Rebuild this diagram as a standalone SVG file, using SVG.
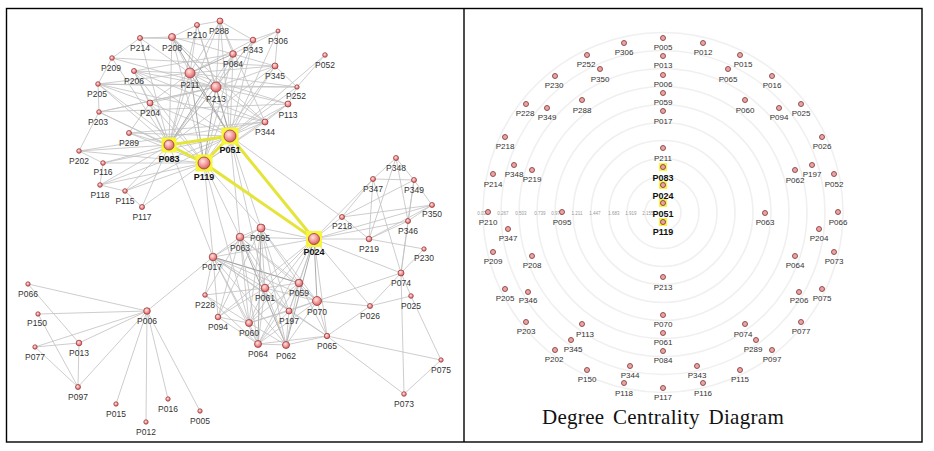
<svg xmlns="http://www.w3.org/2000/svg" width="934" height="451" viewBox="0 0 934 451">
<style>
.e{stroke:#c0c0c0;stroke-width:0.8;fill:none}
.ed{stroke:#959595;stroke-width:0.8;fill:none}
.y{stroke:#e4e43a;stroke-width:3;fill:none;stroke-linecap:round}
.n{fill:url(#g);stroke:#9c3a3a;stroke-width:0.8}
.rn{fill:#eaa4a4;stroke:#8b4040;stroke-width:0.9}
.hl{fill:#f6f63c}
.l{font-family:"Liberation Sans",Arial,sans-serif;font-size:8.5px;fill:#333;text-anchor:middle}
.lb{font-family:"Liberation Sans",Arial,sans-serif;font-size:9px;font-weight:bold;fill:#111;text-anchor:middle}
.rl{font-family:"Liberation Sans",Arial,sans-serif;font-size:8px;fill:#333;text-anchor:middle}
.tk{font-family:"Liberation Sans",Arial,sans-serif;font-size:4.5px;fill:#999;text-anchor:middle}
.ring{fill:none;stroke:#f0f0f0;stroke-width:1.6}
</style>
<defs>
<radialGradient id="g" cx="40%" cy="35%" r="65%">
<stop offset="0" stop-color="#ffe4e4"/>
<stop offset="0.55" stop-color="#f39a9a"/>
<stop offset="1" stop-color="#d36464"/>
</radialGradient>
</defs>
<rect x="0" y="0" width="934" height="451" fill="#fff"/>
<g id="frame" fill="none" stroke="#000" stroke-width="1.4">
<rect x="6.5" y="8.5" width="915.5" height="433.5"/>
<line x1="464" y1="8.5" x2="464" y2="442"/>
</g>

<g id="connectors">
<path class="e" d="M169 145L140 38M169 145L172 37M169 145L112 58M169 145L134 71M169 145L190 73M169 145L216 87M169 145L233 54M169 145L98 84M169 145L99 112M169 145L150 103M169 145L129 133M169 145L79 151M169 145L103 163M169 145L100 185M169 145L125 191M169 145L142 207M169 145L197 25M169 145L220 21M169 145L253 40M169 145L275 66M169 145L213 257"/>
<path class="e" d="M230 136L197 25M230 136L220 21M230 136L233 54M230 136L253 40M230 136L278 31M230 136L275 66M230 136L297 87M230 136L288 104M230 136L265 122M230 136L134 71M230 136L150 103M230 136L129 133M230 136L103 163M230 136L100 185M230 136L125 191M230 136L325 55M230 136L261 228M230 136L240 237M230 136L265 288M230 136L342 217"/>
<path class="ed" d="M230 136L172 37M230 136L190 73M230 136L216 87M204 163L190 73M204 163L216 87M169 145L211 80M190 73L233 54M216 87L172 37"/>
<path class="e" d="M204 163L172 37M204 163L233 54M204 163L253 40M204 163L275 66M204 163L288 104M204 163L265 122M204 163L150 103M204 163L134 71M204 163L129 133M204 163L79 151M204 163L103 163M204 163L100 185M204 163L125 191M204 163L142 207M204 163L98 84M204 163L99 112M204 163L213 257M204 163L240 237M204 163L261 228M204 163L249 323"/>
<path class="e" d="M190 73L197 25M190 73L220 21M190 73L172 37M190 73L140 38M190 73L216 87M190 73L253 40M190 73L134 71M190 73L150 103M190 73L275 66M190 73L288 104M190 73L297 87M190 73L98 84"/>
<path class="e" d="M216 87L197 25M216 87L220 21M216 87L233 54M216 87L253 40M216 87L275 66M216 87L134 71M216 87L98 84M216 87L150 103M216 87L99 112M216 87L288 104M216 87L297 87M216 87L265 122M216 87L112 58"/>
<path class="e" d="M112 58L140 38M140 38L172 37M172 37L197 25M197 25L220 21M220 21L253 40M253 40L278 31M112 58L98 84M98 84L99 112M79 151L99 112M79 151L103 163M103 163L100 185M100 185L125 191M125 191L142 207M233 54L275 66M275 66L297 87M297 87L288 104M288 104L265 122M278 31L275 66M325 55L297 87M233 54L278 31M150 103L134 71M150 103L98 84M129 133L150 103M220 21L233 54M172 37L233 54M134 71L233 54M98 84L297 87M99 112L288 104M134 71L265 122M172 37L265 122M220 21L265 122M140 38L253 40M112 58L275 66M98 84L265 122M99 112L216 87M129 133L265 122M79 151L265 122"/>
<path class="e" d="M213 257L240 237M213 257L261 228M213 257L265 288M213 257L299 283M213 257L317 301M213 257L289 311M213 257L249 323M213 257L258 344M213 257L286 345M213 257L314 239M213 257L205 295M213 257L218 317M213 257L327 336M213 257L147 311"/>
<path class="e" d="M314 239L261 228M314 239L240 237M314 239L265 288M314 239L299 283M314 239L289 311M314 239L249 323M314 239L258 344M314 239L327 336M314 239L218 317M314 239L342 217M314 239L369 239M314 239L401 273M314 239L370 306M314 239L373 179M314 239L432 205M314 239L408 221"/>
<path class="ed" d="M314 239L317 301M314 239L286 345M213 257L299 283M261 228L258 344M240 237L286 345"/>
<path class="e" d="M261 228L240 237M261 228L265 288M261 228L299 283M261 228L317 301M261 228L249 323M261 228L286 345M261 228L289 311M261 228L218 317M240 237L265 288M240 237L299 283M240 237L249 323M240 237L258 344M240 237L317 301M240 237L218 317M240 237L205 295M240 237L289 311M265 288L299 283M265 288L249 323M265 288L258 344M265 288L286 345M265 288L289 311M265 288L317 301M265 288L218 317M265 288L205 295M299 283L317 301M299 283L289 311M299 283L249 323M299 283L258 344M299 283L286 345M299 283L327 336M317 301L289 311M317 301L258 344M317 301L286 345M317 301L327 336M317 301L249 323M317 301L370 306M317 301L401 273M289 311L249 323M289 311L258 344M289 311L286 345M289 311L327 336M249 323L258 344M249 323L286 345M249 323L218 317M249 323L205 295M258 344L286 345M258 344L327 336M286 345L327 336M218 317L258 344M205 295L258 344"/>
<path class="e" d="M396 158L373 179M396 158L414 180M396 158L408 221M396 158L369 239M373 179L414 180M373 179L369 239M373 179L342 217M373 179L401 273M414 180L432 205M414 180L408 221M414 180L401 273M414 180L342 217M432 205L408 221M432 205L369 239M432 205L342 217M408 221L369 239M408 221L401 273M342 217L369 239M369 239L424 249M401 273L370 306M401 273L411 296M401 273L404 394M401 273L424 249M370 306L411 296M370 306L327 336M411 296L441 360M327 336L441 360M327 336L404 394M404 394L441 360"/>
<path class="e" d="M147 311L28 284M147 311L38 314M147 311L35 347M147 311L79 343M147 311L78 387M147 311L116 404M147 311L146 422M147 311L168 399M147 311L200 411M28 284L79 343M38 314L78 387M35 347L78 387M79 343L78 387M35 347L79 343"/>
<path class="y" d="M169 145L230 136M169 145L204 163M230 136L204 163M204 163L314 239M230 136L314 239"/>
</g>

<g id="left-highlights">
<rect class="hl" x="161.5" y="137.5" width="15" height="15"/>
<rect class="hl" x="221.5" y="127.5" width="17" height="17"/>
<rect class="hl" x="195.5" y="154.5" width="17" height="17"/>
<rect class="hl" x="306" y="231" width="16" height="16"/>
</g>

<g id="left-nodes">
<g id="L-P210"><circle class="n" cx="197" cy="25" r="2.5"/><text class="l" x="197" y="38">P210</text></g>
<g id="L-P288"><circle class="n" cx="220" cy="21" r="3"/><text class="l" x="219" y="34">P288</text></g>
<g id="L-P214"><circle class="n" cx="140" cy="38" r="2.5"/><text class="l" x="140" y="51">P214</text></g>
<g id="L-P208"><circle class="n" cx="172" cy="37" r="3.5"/><text class="l" x="172" y="51">P208</text></g>
<g id="L-P209"><circle class="n" cx="112" cy="58" r="2.3"/><text class="l" x="111" y="71">P209</text></g>
<g id="L-P206"><circle class="n" cx="134" cy="71" r="2.5"/><text class="l" x="134" y="84">P206</text></g>
<g id="L-P211"><circle class="n" cx="190" cy="73" r="5"/><text class="l" x="190" y="88">P211</text></g>
<g id="L-P213"><circle class="n" cx="216" cy="87" r="5"/><text class="l" x="216" y="102">P213</text></g>
<g id="L-P084"><circle class="n" cx="233" cy="54" r="3.3"/><text class="l" x="233" y="67">P084</text></g>
<g id="L-P343"><circle class="n" cx="253" cy="40" r="2.8"/><text class="l" x="253" y="53">P343</text></g>
<g id="L-P306"><circle class="n" cx="278" cy="31" r="2"/><text class="l" x="278" y="44">P306</text></g>
<g id="L-P052"><circle class="n" cx="325" cy="55" r="2.3"/><text class="l" x="325" y="68">P052</text></g>
<g id="L-P345"><circle class="n" cx="275" cy="66" r="3"/><text class="l" x="275" y="79">P345</text></g>
<g id="L-P252"><circle class="n" cx="297" cy="87" r="2.2"/><text class="l" x="296" y="99">P252</text></g>
<g id="L-P113"><circle class="n" cx="288" cy="104" r="3"/><text class="l" x="288" y="118">P113</text></g>
<g id="L-P344"><circle class="n" cx="265" cy="122" r="3"/><text class="l" x="265" y="135">P344</text></g>
<g id="L-P205"><circle class="n" cx="98" cy="84" r="2.3"/><text class="l" x="97" y="97">P205</text></g>
<g id="L-P203"><circle class="n" cx="99" cy="112" r="2.3"/><text class="l" x="98" y="125">P203</text></g>
<g id="L-P204"><circle class="n" cx="150" cy="103" r="3"/><text class="l" x="150" y="116">P204</text></g>
<g id="L-P289"><circle class="n" cx="129" cy="133" r="2.5"/><text class="l" x="129" y="146">P289</text></g>
<g id="L-P083"><circle class="n" cx="169" cy="145" r="5"/><text class="lb" x="169" y="162">P083</text></g>
<g id="L-P051"><circle class="n" cx="230" cy="136" r="6"/><text class="lb" x="230" y="153">P051</text></g>
<g id="L-P119"><circle class="n" cx="204" cy="163" r="6"/><text class="lb" x="204" y="180">P119</text></g>
<g id="L-P202"><circle class="n" cx="79" cy="151" r="2.3"/><text class="l" x="79" y="164">P202</text></g>
<g id="L-P116"><circle class="n" cx="103" cy="163" r="2.3"/><text class="l" x="103" y="175">P116</text></g>
<g id="L-P118"><circle class="n" cx="100" cy="185" r="2.3"/><text class="l" x="100" y="198">P118</text></g>
<g id="L-P115"><circle class="n" cx="125" cy="191" r="2.3"/><text class="l" x="125" y="204">P115</text></g>
<g id="L-P117"><circle class="n" cx="142" cy="207" r="2.5"/><text class="l" x="142" y="220">P117</text></g>
<g id="L-P017"><circle class="n" cx="213" cy="257" r="3.8"/><text class="l" x="212" y="270">P017</text></g>
<g id="L-P095"><circle class="n" cx="261" cy="228" r="4"/><text class="l" x="260" y="241">P095</text></g>
<g id="L-P063"><circle class="n" cx="240" cy="237" r="3.8"/><text class="l" x="240" y="251">P063</text></g>
<g id="L-P024"><circle class="n" cx="314" cy="239" r="5.5"/><text class="lb" x="314" y="255">P024</text></g>
<g id="L-P218"><circle class="n" cx="342" cy="217" r="2.5"/><text class="l" x="342" y="229">P218</text></g>
<g id="L-P219"><circle class="n" cx="369" cy="239" r="2.8"/><text class="l" x="369" y="252">P219</text></g>
<g id="L-P348"><circle class="n" cx="396" cy="158" r="2.5"/><text class="l" x="396" y="171">P348</text></g>
<g id="L-P347"><circle class="n" cx="373" cy="179" r="2.5"/><text class="l" x="373" y="192">P347</text></g>
<g id="L-P349"><circle class="n" cx="414" cy="180" r="2.5"/><text class="l" x="414" y="193">P349</text></g>
<g id="L-P350"><circle class="n" cx="432" cy="205" r="2.5"/><text class="l" x="432" y="217">P350</text></g>
<g id="L-P346"><circle class="n" cx="408" cy="221" r="2.5"/><text class="l" x="408" y="234">P346</text></g>
<g id="L-P230"><circle class="n" cx="424" cy="249" r="2.2"/><text class="l" x="424" y="261">P230</text></g>
<g id="L-P074"><circle class="n" cx="401" cy="273" r="3"/><text class="l" x="401" y="286">P074</text></g>
<g id="L-P066"><circle class="n" cx="28" cy="284" r="2.2"/><text class="l" x="28" y="297">P066</text></g>
<g id="L-P150"><circle class="n" cx="38" cy="314" r="2.2"/><text class="l" x="37" y="326">P150</text></g>
<g id="L-P077"><circle class="n" cx="35" cy="347" r="2.2"/><text class="l" x="35" y="360">P077</text></g>
<g id="L-P013"><circle class="n" cx="79" cy="343" r="2.8"/><text class="l" x="79" y="356">P013</text></g>
<g id="L-P097"><circle class="n" cx="78" cy="387" r="2.5"/><text class="l" x="78" y="400">P097</text></g>
<g id="L-P006"><circle class="n" cx="147" cy="311" r="3.3"/><text class="l" x="147" y="324">P006</text></g>
<g id="L-P015"><circle class="n" cx="116" cy="404" r="2.2"/><text class="l" x="116" y="417">P015</text></g>
<g id="L-P012"><circle class="n" cx="146" cy="422" r="2.2"/><text class="l" x="146" y="435">P012</text></g>
<g id="L-P016"><circle class="n" cx="168" cy="399" r="2.2"/><text class="l" x="168" y="412">P016</text></g>
<g id="L-P005"><circle class="n" cx="200" cy="411" r="2.2"/><text class="l" x="200" y="424">P005</text></g>
<g id="L-P228"><circle class="n" cx="205" cy="295" r="2.3"/><text class="l" x="205" y="308">P228</text></g>
<g id="L-P094"><circle class="n" cx="218" cy="317" r="2.8"/><text class="l" x="218" y="330">P094</text></g>
<g id="L-P061"><circle class="n" cx="265" cy="288" r="3.8"/><text class="l" x="265" y="301">P061</text></g>
<g id="L-P059"><circle class="n" cx="299" cy="283" r="3.8"/><text class="l" x="299" y="296">P059</text></g>
<g id="L-P070"><circle class="n" cx="317" cy="301" r="4.5"/><text class="l" x="317" y="315">P070</text></g>
<g id="L-P197"><circle class="n" cx="289" cy="311" r="3"/><text class="l" x="289" y="324">P197</text></g>
<g id="L-P060"><circle class="n" cx="249" cy="323" r="3.5"/><text class="l" x="249" y="336">P060</text></g>
<g id="L-P064"><circle class="n" cx="258" cy="344" r="3.5"/><text class="l" x="258" y="357">P064</text></g>
<g id="L-P062"><circle class="n" cx="286" cy="345" r="3.5"/><text class="l" x="286" y="359">P062</text></g>
<g id="L-P065"><circle class="n" cx="327" cy="336" r="2.7"/><text class="l" x="327" y="349">P065</text></g>
<g id="L-P026"><circle class="n" cx="370" cy="306" r="2.5"/><text class="l" x="370" y="319">P026</text></g>
<g id="L-P025"><circle class="n" cx="411" cy="296" r="2.3"/><text class="l" x="411" y="309">P025</text></g>
<g id="L-P075"><circle class="n" cx="441" cy="360" r="2.2"/><text class="l" x="441" y="373">P075</text></g>
<g id="L-P073"><circle class="n" cx="404" cy="394" r="2.3"/><text class="l" x="404" y="407">P073</text></g>
</g>

<g id="rings">
<circle class="ring" cx="663" cy="212.5" r="18"/>
<circle class="ring" cx="663" cy="212.5" r="36"/>
<circle class="ring" cx="663" cy="212.5" r="54"/>
<circle class="ring" cx="663" cy="212.5" r="72"/>
<circle class="ring" cx="663" cy="212.5" r="90"/>
<circle class="ring" cx="663" cy="212.5" r="108"/>
<circle class="ring" cx="663" cy="212.5" r="126"/>
<circle class="ring" cx="663" cy="212.5" r="144"/>
<circle class="ring" cx="663" cy="212.5" r="162"/>
<circle class="ring" cx="663" cy="212.5" r="180"/>
</g>
<g id="ticks">
<text class="tk" x="483" y="214.5">0.031</text>
<text class="tk" x="503" y="214.5">0.267</text>
<text class="tk" x="521" y="214.5">0.503</text>
<text class="tk" x="540" y="214.5">0.739</text>
<text class="tk" x="557" y="214.5">0.975</text>
<text class="tk" x="577" y="214.5">1.211</text>
<text class="tk" x="595" y="214.5">1.447</text>
<text class="tk" x="614" y="214.5">1.683</text>
<text class="tk" x="631" y="214.5">1.919</text>
<text class="tk" x="648" y="214.5">2.155</text>
</g>

<g id="right-highlights">
<rect class="hl" x="659" y="163" width="8" height="8"/>
<rect class="hl" x="659" y="181" width="8" height="8"/>
<rect class="hl" x="659" y="199" width="8" height="8"/>
<rect class="hl" x="659" y="218" width="8" height="8"/>
</g>

<g id="right-nodes">
<g id="R-P306"><circle class="rn" cx="624" cy="43" r="2.5"/><text class="rl" x="624" y="55">P306</text></g>
<g id="R-P005"><circle class="rn" cx="663" cy="38" r="2.5"/><text class="rl" x="663" y="50">P005</text></g>
<g id="R-P013"><circle class="rn" cx="663" cy="56" r="2.5"/><text class="rl" x="663" y="68">P013</text></g>
<g id="R-P006"><circle class="rn" cx="663" cy="75" r="2.5"/><text class="rl" x="663" y="87">P006</text></g>
<g id="R-P059"><circle class="rn" cx="663" cy="93" r="2.5"/><text class="rl" x="663" y="105">P059</text></g>
<g id="R-P017"><circle class="rn" cx="663" cy="111" r="2.5"/><text class="rl" x="663" y="124">P017</text></g>
<g id="R-P252"><circle class="rn" cx="587" cy="55" r="2.5"/><text class="rl" x="586" y="67">P252</text></g>
<g id="R-P350"><circle class="rn" cx="600" cy="69" r="2.5"/><text class="rl" x="600" y="82">P350</text></g>
<g id="R-P230"><circle class="rn" cx="555" cy="76" r="2.5"/><text class="rl" x="554" y="88">P230</text></g>
<g id="R-P228"><circle class="rn" cx="526" cy="104" r="2.5"/><text class="rl" x="525" y="116">P228</text></g>
<g id="R-P349"><circle class="rn" cx="547" cy="108" r="2.5"/><text class="rl" x="547" y="120">P349</text></g>
<g id="R-P288"><circle class="rn" cx="582" cy="100" r="2.5"/><text class="rl" x="582" y="113">P288</text></g>
<g id="R-P218"><circle class="rn" cx="505" cy="137" r="2.5"/><text class="rl" x="505" y="149">P218</text></g>
<g id="R-P211"><circle class="rn" cx="663" cy="148" r="2.5"/><text class="rl" x="663" y="161">P211</text></g>
<g id="R-P012"><circle class="rn" cx="703" cy="43" r="2.5"/><text class="rl" x="703" y="55">P012</text></g>
<g id="R-P015"><circle class="rn" cx="740" cy="55" r="2.5"/><text class="rl" x="743" y="67">P015</text></g>
<g id="R-P065"><circle class="rn" cx="728" cy="69" r="2.5"/><text class="rl" x="728" y="82">P065</text></g>
<g id="R-P016"><circle class="rn" cx="772" cy="76" r="2.5"/><text class="rl" x="772" y="88">P016</text></g>
<g id="R-P060"><circle class="rn" cx="745" cy="100" r="2.5"/><text class="rl" x="745" y="113">P060</text></g>
<g id="R-P094"><circle class="rn" cx="779" cy="108" r="2.5"/><text class="rl" x="779" y="120">P094</text></g>
<g id="R-P025"><circle class="rn" cx="801" cy="104" r="2.5"/><text class="rl" x="801" y="116">P025</text></g>
<g id="R-P026"><circle class="rn" cx="822" cy="137" r="2.5"/><text class="rl" x="822" y="149">P026</text></g>
<g id="R-P348"><circle class="rn" cx="514" cy="165" r="2.5"/><text class="rl" x="514" y="177">P348</text></g>
<g id="R-P214"><circle class="rn" cx="493" cy="174" r="2.5"/><text class="rl" x="493" y="187">P214</text></g>
<g id="R-P219"><circle class="rn" cx="532" cy="170" r="2.5"/><text class="rl" x="532" y="182">P219</text></g>
<g id="R-P210"><circle class="rn" cx="488" cy="212" r="2.5"/><text class="rl" x="488" y="225">P210</text></g>
<g id="R-P095"><circle class="rn" cx="562" cy="212" r="2.5"/><text class="rl" x="562" y="225">P095</text></g>
<g id="R-P347"><circle class="rn" cx="508" cy="229" r="2.5"/><text class="rl" x="508" y="241">P347</text></g>
<g id="R-P209"><circle class="rn" cx="493" cy="252" r="2.5"/><text class="rl" x="493" y="264">P209</text></g>
<g id="R-P208"><circle class="rn" cx="532" cy="256" r="2.5"/><text class="rl" x="532" y="268">P208</text></g>
<g id="R-P213"><circle class="rn" cx="663" cy="277" r="2.5"/><text class="rl" x="663" y="290">P213</text></g>
<g id="R-P083"><circle class="rn" cx="663" cy="167" r="2.5"/><text class="lb" x="663" y="181">P083</text></g>
<g id="R-P024"><circle class="rn" cx="663" cy="185" r="2.5"/><text class="lb" x="663" y="199">P024</text></g>
<g id="R-P051"><circle class="rn" cx="663" cy="203" r="2.5"/><text class="lb" x="663" y="217">P051</text></g>
<g id="R-P119"><circle class="rn" cx="663" cy="222" r="2.5"/><text class="lb" x="663" y="235">P119</text></g>
<g id="R-P062"><circle class="rn" cx="795" cy="170" r="2.5"/><text class="rl" x="795" y="183">P062</text></g>
<g id="R-P197"><circle class="rn" cx="812" cy="165" r="2.5"/><text class="rl" x="812" y="177">P197</text></g>
<g id="R-P052"><circle class="rn" cx="834" cy="174" r="2.5"/><text class="rl" x="834" y="187">P052</text></g>
<g id="R-P063"><circle class="rn" cx="765" cy="213" r="2.5"/><text class="rl" x="765" y="225">P063</text></g>
<g id="R-P066"><circle class="rn" cx="838" cy="212" r="2.5"/><text class="rl" x="838" y="225">P066</text></g>
<g id="R-P204"><circle class="rn" cx="819" cy="229" r="2.5"/><text class="rl" x="819" y="241">P204</text></g>
<g id="R-P064"><circle class="rn" cx="795" cy="256" r="2.5"/><text class="rl" x="795" y="268">P064</text></g>
<g id="R-P073"><circle class="rn" cx="834" cy="252" r="2.5"/><text class="rl" x="834" y="264">P073</text></g>
<g id="R-P205"><circle class="rn" cx="505" cy="289" r="2.5"/><text class="rl" x="505" y="301">P205</text></g>
<g id="R-P346"><circle class="rn" cx="528" cy="292" r="2.5"/><text class="rl" x="528" y="303">P346</text></g>
<g id="R-P203"><circle class="rn" cx="526" cy="322" r="2.5"/><text class="rl" x="526" y="334">P203</text></g>
<g id="R-P113"><circle class="rn" cx="582" cy="324" r="2.5"/><text class="rl" x="585" y="337">P113</text></g>
<g id="R-P345"><circle class="rn" cx="571" cy="340" r="2.5"/><text class="rl" x="573" y="352">P345</text></g>
<g id="R-P202"><circle class="rn" cx="555" cy="350" r="2.5"/><text class="rl" x="554" y="362">P202</text></g>
<g id="R-P070"><circle class="rn" cx="663" cy="315" r="2.5"/><text class="rl" x="663" y="327">P070</text></g>
<g id="R-P061"><circle class="rn" cx="663" cy="333" r="2.5"/><text class="rl" x="663" y="345">P061</text></g>
<g id="R-P084"><circle class="rn" cx="663" cy="351" r="2.5"/><text class="rl" x="663" y="363">P084</text></g>
<g id="R-P150"><circle class="rn" cx="587" cy="370" r="2.5"/><text class="rl" x="587" y="382">P150</text></g>
<g id="R-P344"><circle class="rn" cx="630" cy="366" r="2.5"/><text class="rl" x="630" y="378">P344</text></g>
<g id="R-P118"><circle class="rn" cx="624" cy="383" r="2.5"/><text class="rl" x="624" y="396">P118</text></g>
<g id="R-P117"><circle class="rn" cx="663" cy="388" r="2.5"/><text class="rl" x="663" y="400">P117</text></g>
<g id="R-P343"><circle class="rn" cx="697" cy="366" r="2.5"/><text class="rl" x="697" y="378">P343</text></g>
<g id="R-P116"><circle class="rn" cx="703" cy="383" r="2.5"/><text class="rl" x="703" y="396">P116</text></g>
<g id="R-P206"><circle class="rn" cx="799" cy="292" r="2.5"/><text class="rl" x="799" y="303">P206</text></g>
<g id="R-P075"><circle class="rn" cx="822" cy="289" r="2.5"/><text class="rl" x="822" y="301">P075</text></g>
<g id="R-P077"><circle class="rn" cx="801" cy="322" r="2.5"/><text class="rl" x="801" y="334">P077</text></g>
<g id="R-P074"><circle class="rn" cx="745" cy="324" r="2.5"/><text class="rl" x="743" y="337">P074</text></g>
<g id="R-P289"><circle class="rn" cx="756" cy="340" r="2.5"/><text class="rl" x="753" y="352">P289</text></g>
<g id="R-P097"><circle class="rn" cx="772" cy="350" r="2.5"/><text class="rl" x="772" y="362">P097</text></g>
<g id="R-P115"><circle class="rn" cx="740" cy="370" r="2.5"/><text class="rl" x="740" y="382">P115</text></g>
</g>

<text id="title" x="663" y="424" font-family="'Liberation Serif','Times New Roman',serif" font-size="21" fill="#111" text-anchor="middle" letter-spacing="0.3" word-spacing="3">Degree Centrality Diagram</text>
</svg>
